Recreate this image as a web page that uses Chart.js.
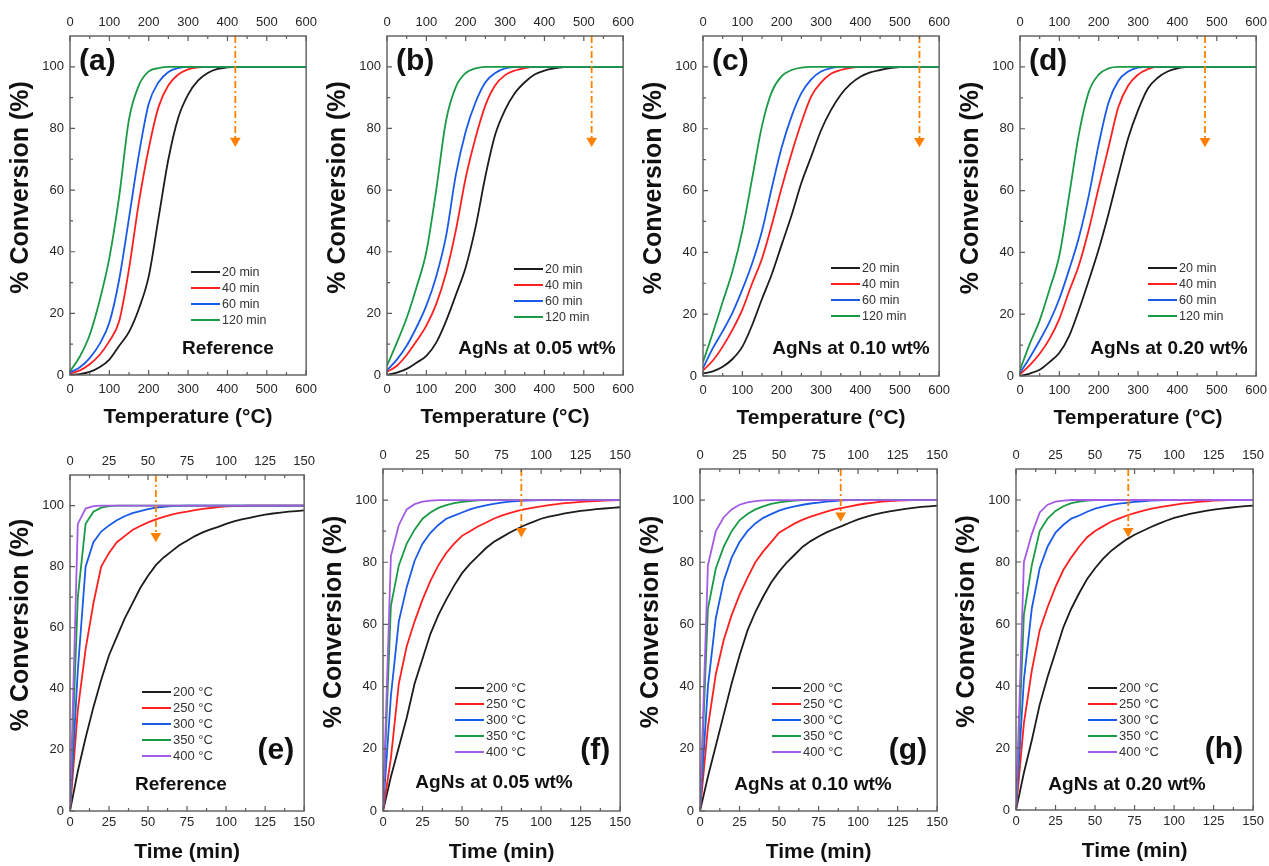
<!DOCTYPE html>
<html><head><meta charset="utf-8">
<script src="https://cdn.jsdelivr.net/npm/chart.js@4.4.1/dist/chart.umd.min.js"></script>
<style>
html,body{margin:0;padding:0;background:#fff;width:1269px;height:866px;overflow:hidden;position:relative;}
canvas{position:absolute;}
</style></head><body>
<script>
// ---------- categories / ticks ----------
const tempX = [0,25,50,75,100,125,150,175,200,225,250,275,300,325,350,375,400,425,450,475,500,525,550,575,600];
const timeX = [0,5,10,15,20,25,30,35,40,45,50,55,60,65,70,75,80,85,90,95,100,105,110,115,120,125,130,135,140,145,150];
const tempTicks = [0,100,200,300,400,500,600];
const timeTicks = [0,25,50,75,100,125,150];
const convTicks = [0,20,40,60,80,100];
const tempSeriesLabels = ['20 min','40 min','60 min','120 min'];
const timeSeriesLabels = ['200 °C','250 °C','300 °C','350 °C','400 °C'];
const panelLabels = ['(a)','(b)','(c)','(d)','(e)','(f)','(g)','(h)'];
const panelNotes = ['Reference','AgNs at 0.05 wt%','AgNs at 0.10 wt%','AgNs at 0.20 wt%','Reference','AgNs at 0.05 wt%','AgNs at 0.10 wt%','AgNs at 0.20 wt%'];
const arrowX = [420,520,550,470,55,87.5,89,71];
const arrowTip = [74,74,74,74,88,88,93,88];

// ---------- series: % conversion vs temperature ----------
const a20  = [0,0.3,1,2.5,5,9.5,14,21.5,32,51,70,83.5,91,95.5,98,99.3,99.8,100,100,100,100,100,100,100,100];
const a40  = [0.5,1.5,3.5,6.5,11,17.5,34.5,56,73.5,87,94,97.5,99.2,99.8,100,100,100,100,100,100,100,100,100,100,100];
const a60  = [0.8,2.5,5.5,10,17,31,51,71.5,88,95,98.3,99.6,100,100,100,100,100,100,100,100,100,100,100,100,100];
const a120 = [1.2,6,13,24,38,58,83,94,98.5,99.6,100,100,100,100,100,100,100,100,100,100,100,100,100,100,100];

const b20  = [0,0.8,2,4,6.2,10.5,17.5,26,35,48,64.5,78,86,91.5,95,97.5,98.8,99.5,99.9,100,100,100,100,100,100];
const b40  = [1,3,6.5,11,16,23,33,47,64,77,87.5,94,97.3,98.8,99.6,100,100,100,100,100,100,100,100,100,100];
const b60  = [1.5,5,9.5,15.5,22.5,32,45,65,79,88.5,95,98,99.5,100,100,100,100,100,100,100,100,100,100,100,100];
const b120 = [3,10.5,18.5,28.5,40,60,82.5,93.5,98,99.5,100,100,100,100,100,100,100,100,100,100,100,100,100,100,100];

const c20  = [0.8,1.5,3,5.5,9.5,16.5,25,33,42.5,52,62.5,71,79.5,86,91,94.5,96.8,98.2,99,99.6,99.9,100,100,100,100];
const c40  = [1.8,5,9.5,15,21.5,30,38,49,61,72,82,90.5,95,97.8,99,99.7,100,100,100,100,100,100,100,100,100];
const c60  = [2.5,9,14.5,20.5,28,36.5,47,61,74,84,91.5,96,98.5,99.6,100,100,100,100,100,100,100,100,100,100,100];
const c120 = [4.5,14,24,34,47,64,81,92,97,99,99.8,100,100,100,100,100,100,100,100,100,100,100,100,100,100];

const d20  = [0,0.8,2,4.5,7.5,13,21.5,31,41,52.5,65,77,86,93,96.5,98.5,99.5,100,100,100,100,100,100,100,100];
const d40  = [0.5,3.5,7.2,12,18.5,27.5,36,47.5,61,74,87,94,97.5,99.3,100,100,100,100,100,100,100,100,100,100,100];
const d60  = [1,6,11.5,17.5,25,34.5,45,58.5,75,88.5,95.5,98.5,99.8,100,100,100,100,100,100,100,100,100,100,100,100];
const d120 = [2,10.5,18,28,39,58.5,78.5,92,97.5,99.5,100,100,100,100,100,100,100,100,100,100,100,100,100,100,100];

// ---------- series: % conversion vs time ----------
const e200 = [0,13,24,34,43,51,57,63,68,73,77,80.5,83,85,87,88.5,90,91.2,92.2,93,94,94.8,95.5,96,96.5,97,97.4,97.7,98,98.2,98.4];
const e250 = [0,33,53,68,80,84.5,88,90,92,93.3,94.5,95.5,96.3,97,97.6,98,98.5,98.9,99.2,99.5,99.7,99.8,99.9,100,100,100,100,100,100,100,100];
const e300 = [0,46,80,88,91.5,93.5,95.2,96.5,97.5,98.2,98.8,99.3,99.6,99.8,99.9,100,100,100,100,100,100,100,100,100,100,100,100,100,100,100,100];
const e350 = [0,70,94,98,99.3,99.8,100,100,100,100,100,100,100,100,100,100,100,100,100,100,100,100,100,100,100,100,100,100,100,100,100];
const e400 = [0,94,99,99.8,100,100,100,100,100,100,100,100,100,100,100,100,100,100,100,100,100,100,100,100,100,100,100,100,100,100,100];

const f200 = [0,11,20.5,30,41,49,57,63,68,72.5,76.5,79.5,82,84.5,86.5,88,89.5,90.8,92,93,94,94.7,95.2,95.7,96.1,96.5,96.8,97.1,97.3,97.5,97.7];
const f250 = [0,17,41,53,61,68,74,79,83,86,88.5,90,91.5,92.7,94,95,95.8,96.5,97.1,97.6,98,98.4,98.7,99,99.2,99.4,99.6,99.7,99.8,99.9,100];
const f300 = [0,37,61,72,80.5,86,89.5,92,94,95,96,97,97.7,98.3,98.8,99.2,99.5,99.7,99.8,99.9,100,100,100,100,100,100,100,100,100,100,100];
const f350 = [0,66,79,86,90.5,94,96,97.5,98.4,99,99.4,99.7,99.9,100,100,100,100,100,100,100,100,100,100,100,100,100,100,100,100,100,100];
const f400 = [0,82,92,97,98.7,99.5,99.8,100,100,100,100,100,100,100,100,100,100,100,100,100,100,100,100,100,100,100,100,100,100,100,100];

const g200 = [0,11,21,31,41,50,58,64,69,73.5,77,80,82.5,85,86.8,88.3,89.6,90.7,91.7,92.8,93.8,94.6,95.3,95.9,96.4,96.8,97.2,97.5,97.8,98,98.2];
const g250 = [0,27,44,55,63,69.5,75,80,83.5,86.5,89.5,91,92.5,93.7,94.7,95.5,96.3,97,97.5,98,98.5,98.9,99.2,99.5,99.7,99.8,99.9,100,100,100,100];
const g300 = [0,40,62,74,81.5,86.5,90,92.5,94.3,95.5,96.6,97.4,98,98.5,98.9,99.2,99.5,99.7,99.9,100,100,100,100,100,100,100,100,100,100,100,100];
const g350 = [0,65,78,85,90,93.5,95.5,97,98,98.8,99.3,99.6,99.8,100,100,100,100,100,100,100,100,100,100,100,100,100,100,100,100,100,100];
const g400 = [0,79,90,94.5,97,98.5,99.3,99.7,99.9,100,100,100,100,100,100,100,100,100,100,100,100,100,100,100,100,100,100,100,100,100,100];

const h200 = [0,12,22.5,34,43,51,59,65,70,74.5,78,81,83.5,85.5,87.3,88.8,90,91.2,92.3,93.3,94.2,94.9,95.5,96,96.5,96.9,97.2,97.5,97.8,98,98.2];
const h250 = [0,28,45,58,65.5,72,77.5,81.5,85,88,90,91.5,93,94,95,95.8,96.5,97.1,97.6,98,98.4,98.8,99.1,99.4,99.6,99.8,99.9,100,100,100,100];
const h300 = [0,42,65,78,85,89.5,92,94,95,96.2,97.2,97.9,98.4,98.8,99.1,99.4,99.6,99.8,99.9,100,100,100,100,100,100,100,100,100,100,100,100];
const h350 = [0,63,79,90,94,96.5,98,99,99.5,99.8,100,100,100,100,100,100,100,100,100,100,100,100,100,100,100,100,100,100,100,100,100];
const h400 = [0,80,89,96,98.5,99.5,99.8,100,100,100,100,100,100,100,100,100,100,100,100,100,100,100,100,100,100,100,100,100,100,100,100];

// ---------- styling / layout ----------
const FONT = "'Liberation Sans', Arial, Helvetica, sans-serif";
const COLORS = ['#1c1c1c','#ff1f1f','#1a5ae8','#1b9a46','#a45be6'];
const ORANGE = '#ff8000';

const panels = [
  {L:70,  T:36,  R:310,  B:375, row:0, series:[a20,a40,a60,a120], leg:[121,236], note:[158,-26]},
  {L:387, T:36,  R:627,  B:375, row:0, series:[b20,b40,b60,b120], leg:[127,233], note:[150,-26]},
  {L:703, T:36,  R:943,  B:376, row:0, series:[c20,c40,c60,c120], leg:[128,232], note:[148,-27]},
  {L:1020,T:36,  R:1260, B:376, row:0, series:[d20,d40,d60,d120], leg:[128,232], note:[149,-27]},
  {L:70,  T:475, R:307,  B:811, row:1, series:[e200,e250,e300,e350,e400], leg:[72,217], note:[111,-26]},
  {L:383, T:469, R:623,  B:811, row:1, series:[f200,f250,f300,f350,f400], leg:[72,219], note:[111,-28]},
  {L:700, T:469, R:940,  B:811, row:1, series:[g200,g250,g300,g350,g400], leg:[72,219], note:[113,-26]},
  {L:1016,T:469, R:1256, B:810, row:1, series:[h200,h250,h300,h350,h400], leg:[72,219], note:[111,-25]}
];

const LEFT = 70, TOP = 40, BOTTOM = 62, RIGHT = 14;

function decoPlugin(p, idx) {
  return {
    id: 'deco' + idx,
    afterDraw(chart) {
      const ctx = chart.ctx, ca = chart.chartArea;
      const xs = chart.scales.x, ys = chart.scales.y;
      const xt = p.row === 0 ? tempTicks : timeTicks;
      ctx.save();
      // frame
      ctx.strokeStyle = '#5c5c5c'; ctx.lineWidth = 1.4;
      ctx.strokeRect(ca.left, ca.top, ca.right - ca.left, ca.bottom - ca.top);
      // inward ticks
      ctx.lineWidth = 1.2;
      ctx.beginPath();
      for (let i = 0; i < xt.length; i++) {
        const px = xs.getPixelForValue(xt[i]);
        ctx.moveTo(px, ca.bottom); ctx.lineTo(px, ca.bottom - 5);
        ctx.moveTo(px, ca.top); ctx.lineTo(px, ca.top + 5);
        if (i < xt.length - 1) {
          const mx = xs.getPixelForValue((xt[i] + xt[i+1]) / 2);
          ctx.moveTo(mx, ca.bottom); ctx.lineTo(mx, ca.bottom - 3);
          ctx.moveTo(mx, ca.top); ctx.lineTo(mx, ca.top + 3);
        }
      }
      for (let i = 0; i < convTicks.length; i++) {
        const py = ys.getPixelForValue(convTicks[i]);
        ctx.moveTo(ca.left, py); ctx.lineTo(ca.left + 5, py);
        if (i < convTicks.length - 1) {
          const my = ys.getPixelForValue((convTicks[i] + convTicks[i+1]) / 2);
          ctx.moveTo(ca.left, my); ctx.lineTo(ca.left + 3, my);
        }
      }
      ctx.stroke();
      // y title
      ctx.save();
      ctx.fillStyle = '#111';
      ctx.font = 'bold 25px ' + FONT;
      ctx.textAlign = 'center'; ctx.textBaseline = 'middle';
      ctx.translate(ca.left - 49, (ca.top + ca.bottom) / 2 - 18);
      ctx.rotate(-Math.PI / 2);
      ctx.fillText('% Conversion (%)', 0, 0);
      ctx.restore();
      // panel label
      ctx.fillStyle = '#111';
      ctx.font = 'bold 30px ' + FONT;
      ctx.textBaseline = 'middle';
      if (p.row === 0) { ctx.textAlign = 'left'; ctx.fillText(panelLabels[idx], ca.left + 9, ca.top + 26); }
      else { ctx.textAlign = 'right'; ctx.fillText(panelLabels[idx], ca.right - 10, ca.bottom - 60); }
      // note
      ctx.font = 'bold 19px ' + FONT;
      ctx.textAlign = 'center';
      ctx.fillText(panelNotes[idx], ca.left + p.note[0], ca.bottom + p.note[1]);
      // legend
      const sets = chart.data.datasets.filter(d => !d.isArrow);
      const lx = ca.left + p.leg[0], ly = ca.top + p.leg[1];
      ctx.font = (p.row === 0 ? '12.5px ' : '13px ') + FONT;
      ctx.textAlign = 'left';
      sets.forEach((d, i) => {
        const y = ly + i * 16;
        ctx.strokeStyle = d.borderColor; ctx.lineWidth = 2;
        ctx.beginPath(); ctx.moveTo(lx, y); ctx.lineTo(lx + 29, y); ctx.stroke();
        ctx.fillStyle = '#333';
        ctx.fillText(d.label, lx + 31, y + 0.5);
      });
      ctx.restore();
    }
  };
}

panels.forEach((p, idx) => {
  const W = (p.R - p.L) + LEFT + RIGHT;
  const H = (p.B - p.T) + TOP + BOTTOM;
  const cv = document.createElement('canvas');
  cv.width = W; cv.height = H;
  cv.style.width = W + 'px'; cv.style.height = H + 'px';
  cv.style.left = (p.L - LEFT) + 'px'; cv.style.top = (p.T - TOP) + 'px';
  document.body.appendChild(cv);

  const isTemp = p.row === 0;
  const xv = isTemp ? tempX : timeX;
  const xt = isTemp ? tempTicks : timeTicks;
  const names = isTemp ? tempSeriesLabels : timeSeriesLabels;
  const n = p.series.length;
  const datasets = p.series.map((arr, i) => ({
    label: names[i],
    data: xv.map((x, k) => ({x: x, y: arr[k]})),
    borderColor: COLORS[i],
    backgroundColor: COLORS[i],
    borderWidth: 1.8,
    pointRadius: 0,
    tension: isTemp ? 0.4 : 0,
    cubicInterpolationMode: isTemp ? 'monotone' : 'default',
    fill: false,
    order: n - i + 1
  }));
  datasets.push({
    label: '',
    isArrow: true,
    data: [{x: arrowX[idx], y: 110}, {x: arrowX[idx], y: arrowTip[idx] + 2}],
    borderColor: ORANGE,
    backgroundColor: ORANGE,
    borderWidth: 1.8,
    borderDash: [7, 3, 2, 3],
    pointRadius: [0, 6.2],
    pointStyle: 'triangle',
    rotation: 180,
    pointBorderWidth: 0,
    pointBackgroundColor: ORANGE,
    order: 0,
    clip: false
  });
  const xmax = xt[xt.length - 1];
  const tickFont = {family: FONT, size: 13};
  const noGrid = {display: false, drawTicks: false, drawOnChartArea: false};
  new Chart(cv, {
    type: 'line',
    data: {datasets},
    options: {
      responsive: false,
      devicePixelRatio: 1,
      animation: false,
      layout: {autoPadding: false, padding: {left: 0, right: RIGHT, top: 0, bottom: 0}},
      plugins: {legend: {display: false}, tooltip: {enabled: false}},
      scales: {
        x: {
          type: 'linear', position: 'bottom', min: 0, max: xmax,
          afterBuildTicks: s => { s.ticks = xt.map(v => ({value: v})); },
          afterFit: s => { s.height = BOTTOM; },
          grid: noGrid, border: {display: false},
          ticks: {padding: isTemp ? 7 : 4, font: tickFont, color: '#262626', maxRotation: 0, autoSkip: false},
          title: {display: true, text: isTemp ? 'Temperature (°C)' : 'Time (min)', color: '#111',
                  font: {family: FONT, size: 21, weight: 'bold'}, padding: {top: 0, bottom: isTemp ? 7.4 : 8.4}}
        },
        x2: {
          type: 'linear', position: 'top', min: 0, max: xmax,
          afterBuildTicks: s => { s.ticks = xt.map(v => ({value: v})); },
          afterFit: s => { s.height = TOP; },
          grid: noGrid, border: {display: false},
          ticks: {padding: 6, font: tickFont, color: '#262626', maxRotation: 0, autoSkip: false}
        },
        y: {
          type: 'linear', position: 'left', min: 0, max: 110,
          afterBuildTicks: s => { s.ticks = convTicks.map(v => ({value: v})); },
          afterFit: s => { s.width = LEFT; },
          grid: noGrid, border: {display: false},
          ticks: {padding: 6, font: tickFont, color: '#262626', autoSkip: false}
        }
      }
    },
    plugins: [decoPlugin(p, idx)]
  });
});
</script>
</body></html>
